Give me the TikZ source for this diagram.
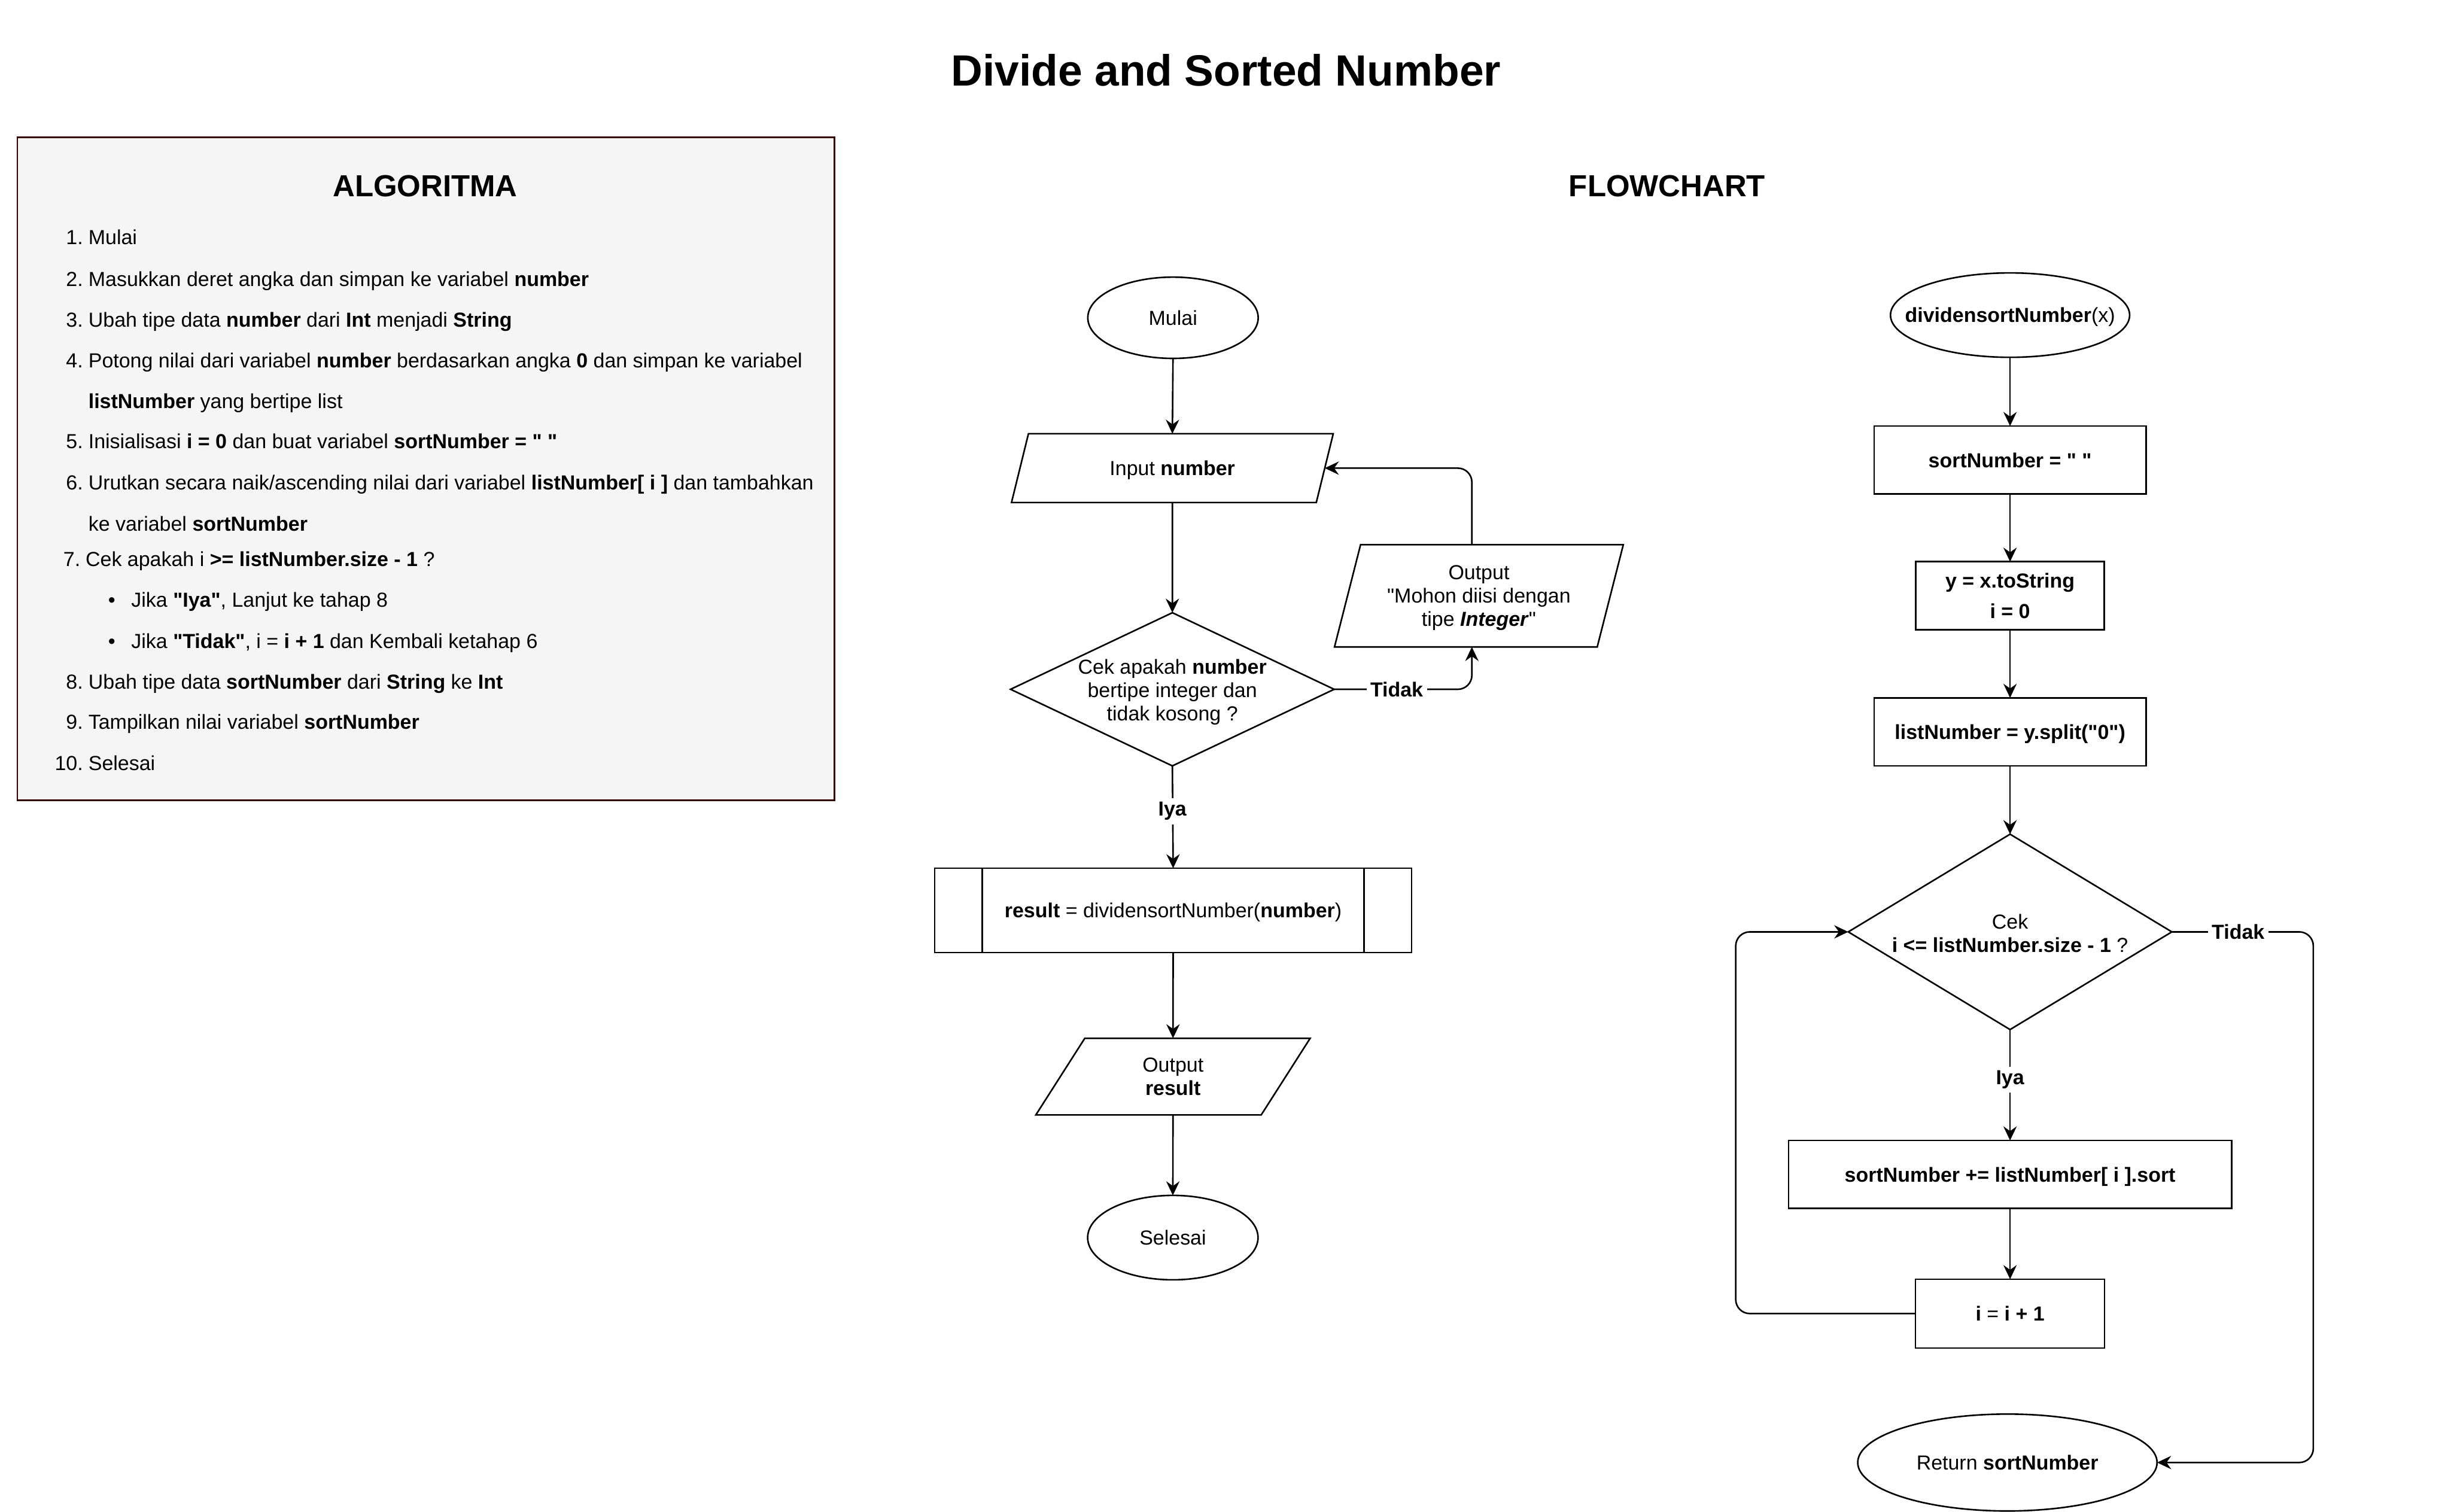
\documentclass[tikz,border=0pt]{standalone}
\usepackage{fontspec}
\setmainfont{Liberation Sans}[Ligatures=TeXOff]
\usetikzlibrary{shapes.geometric,arrows.meta,calc}
\definecolor{boxfill}{HTML}{F5F5F5}
\definecolor{boxline}{HTML}{330000}
\begin{document}
\begin{tikzpicture}[x=1pt,y=-1pt,
  every node/.style={font=\fontsize{13}{15}\selectfont, inner sep=0pt, outer sep=0pt},
  shp/.style={draw, line width=1pt, text depth=0pt},
  term/.style={shp, ellipse},
  procbox/.style={shp, rectangle},
  io/.style={shp, trapezium, trapezium stretches=true, align=center},
  decis/.style={shp, diamond},
  arr/.style={line width=1pt, -{Stealth[length=9pt,width=8.5pt,inset=3pt]}},
  lbl/.style={fill=white, inner sep=2.5pt, font=\fontsize{13}{15}\selectfont\bfseries},
  num/.style={anchor=base east},
  txt/.style={anchor=base west}]
\useasboundingbox (0,0) rectangle (1568,967);

% titles
\node[anchor=base, font=\fontsize{28}{30}\selectfont\bfseries] (title) at (784.4,55) {Divide and Sorted Number};

% algorithm box
\node[draw=boxline, fill=boxfill, line width=1.1pt, minimum width=522.6pt, minimum height=424pt, anchor=north west] (algbox) at (11.1,88) {};
\node[anchor=base, font=\fontsize{19.5}{22}\selectfont\bfseries] (algtitle) at (272,125.8) {ALGORITMA};
\node[anchor=base, font=\fontsize{19.5}{22}\selectfont\bfseries] (fctitle) at (1066.5,125.8) {FLOWCHART};

\node[num] (n1) at (53.1,156.5) {1.};
\node[txt] (t1) at (56.6,156.5) {Mulai};
\node[num] (n2) at (53.1,183.2) {2.};
\node[txt] (t2) at (56.6,183.2) {Masukkan deret angka dan simpan ke variabel \textbf{number}};
\node[num] (n3) at (53.1,209.3) {3.};
\node[txt] (t3) at (56.6,209.3) {Ubah tipe data \textbf{number} dari \textbf{Int} menjadi \textbf{String}};
\node[num] (n4) at (53.1,235.4) {4.};
\node[txt] (t4) at (56.6,235.4) {Potong nilai dari variabel \textbf{number} berdasarkan angka \textbf{0} dan simpan ke variabel};
\node[txt] (t4b) at (56.6,261.2) {\textbf{listNumber} yang bertipe list};
\node[num] (n5) at (53.1,287.0) {5.};
\node[txt] (t5) at (56.6,287.0) {Inisialisasi \textbf{i = 0} dan buat variabel \textbf{sortNumber = " "}};
\node[num] (n6) at (53.1,313.4) {6.};
\node[txt] (t6) at (56.6,313.4) {Urutkan secara naik/ascending nilai dari variabel \textbf{listNumber[ i ]} dan tambahkan};
\node[txt] (t6b) at (56.6,339.7) {ke variabel \textbf{sortNumber}};
\node[num] (n7) at (51.4,362.5) {7.};
\node[txt] (t7) at (54.8,362.5) {Cek apakah i \textbf{>= listNumber.size - 1} ?};
\node[anchor=base] (b1) at (71.5,388.3) {•};
\node[txt] (t7a) at (84,388.3) {Jika \textbf{"Iya"}, Lanjut ke tahap 8};
\node[anchor=base] (b2) at (71.5,414.7) {•};
\node[txt] (t7b) at (84,414.7) {Jika \textbf{"Tidak"}, i = \textbf{i + 1} dan Kembali ketahap 6};
\node[num] (n8) at (53.1,440.8) {8.};
\node[txt] (t8) at (56.6,440.8) {Ubah tipe data \textbf{sortNumber} dari \textbf{String} ke \textbf{Int}};
\node[num] (n9) at (53.1,466.6) {9.};
\node[txt] (t9) at (56.6,466.6) {Tampilkan nilai variabel \textbf{sortNumber}};
\node[num] (n10) at (53.1,493.0) {10.};
\node[txt] (t10) at (56.6,493.0) {Selesai};

% left flowchart
\node[term, minimum width=109pt, minimum height=52pt] (m1) at (750.4,203.3) {Mulai};
\node[io, trapezium left angle=63.4, trapezium right angle=116.6, minimum width=207pt, minimum height=44pt] (in) at (750,299.5) {Input \textbf{number}};
\node[decis, minimum width=207pt, minimum height=98pt] (d1) at (750,441) {};
\node[align=center, text depth=0pt] (d1t) at (750,441.5) {Cek apakah \textbf{number}\\bertipe integer dan\\tidak kosong ?};
\node[io, trapezium left angle=71.7, trapezium right angle=108.3, minimum width=185pt, minimum height=65.4pt] (o1) at (946.1,381.2) {Output\\"Mohon diisi dengan\\tipe \textbf{\textit{Integer}}"};
\node[procbox, minimum width=305pt, minimum height=54pt] (p1) at (750.5,582.5) {\textbf{result} = dividensortNumber(\textbf{number})};
\draw[line width=1pt] ([xshift=30.4pt]p1.north west) -- ([xshift=30.4pt]p1.south west);
\draw[line width=1pt] ([xshift=-30.4pt]p1.north east) -- ([xshift=-30.4pt]p1.south east);
\node[io, trapezium left angle=65.8, trapezium right angle=114.2, minimum width=176.5pt, minimum height=49pt] (o2) at (750.4,688.8) {Output\\\textbf{result}};
\node[term, minimum width=109pt, minimum height=54pt] (s1) at (750.3,791.8) {Selesai};

\draw[arr] (m1.south) -- (in.north);
\draw[arr] (in.south) -- (d1.north);
\draw[arr] (d1.south) -- (p1.north);
\node[lbl] (iya1) at (750,519) {Iya};
\draw[arr] (p1.south) -- (o2.north);
\draw[arr] (o2.south) -- (s1.north);
\draw[arr, rounded corners=9pt] (d1.east) -| ([xshift=-4.5pt]o1.south);
\node[lbl] (tidak1) at (893.5,441) {Tidak};
\draw[arr, rounded corners=9pt] ([xshift=-4.5pt]o1.north) |- (in.right side);

% right flowchart
\node[term, minimum width=153pt, minimum height=54pt] (f0) at (1285.9,201.6) {\makebox[0pt]{\textbf{dividensortNumber}(x)}};
\node[procbox, minimum width=174pt, minimum height=43.5pt] (r1) at (1285.9,294.3) {\textbf{sortNumber = " "}};
\node[procbox, minimum width=120.6pt, minimum height=43.5pt, align=center, font=\fontsize{13}{19.6}\selectfont\bfseries] (r2) at (1285.9,381.1) {y = x.toString\\i = 0};
\node[procbox, minimum width=174pt, minimum height=43.5pt] (r3) at (1285.9,468.2) {\textbf{listNumber = y.split("0")}};
\node[decis, minimum width=207pt, minimum height=125pt] (d2) at (1285.9,596.2) {};
\node[align=center, text depth=0pt] (d2t) at (1285.9,597.2) {Cek\\\textbf{i <= listNumber.size - 1} ?};
\node[procbox, minimum width=283.5pt, minimum height=43.5pt] (r4) at (1285.9,751.4) {\textbf{sortNumber += listNumber[ i ].sort}};
\node[procbox, minimum width=121pt, minimum height=44pt] (r5) at (1285.9,840.4) {\textbf{i} = \textbf{i + 1}};
\node[term, minimum width=191.5pt, minimum height=62pt] (f1) at (1284.2,935.7) {Return \textbf{sortNumber}};

\draw[arr] (f0.south) -- (r1.north);
\draw[arr] (r1.south) -- (r2.north);
\draw[arr] (r2.south) -- (r3.north);
\draw[arr] (r3.south) -- (d2.north);
\draw[arr] (d2.south) -- (r4.north);
\node[lbl] (iya2) at (1285.9,690.7) {Iya};
\draw[arr] (r4.south) -- (r5.north);
\coordinate (loopl) at (1110.4,840.4);
\draw[arr, rounded corners=9pt] (r5.west) -- (loopl) |- (d2.west);
\coordinate (loopr) at (1479.9,596.2);
\draw[arr, rounded corners=9pt] (d2.east) -- (loopr) |- (f1.east);
\node[lbl] (tidak2) at (1431.8,596.2) {Tidak};
\end{tikzpicture}
\end{document}
